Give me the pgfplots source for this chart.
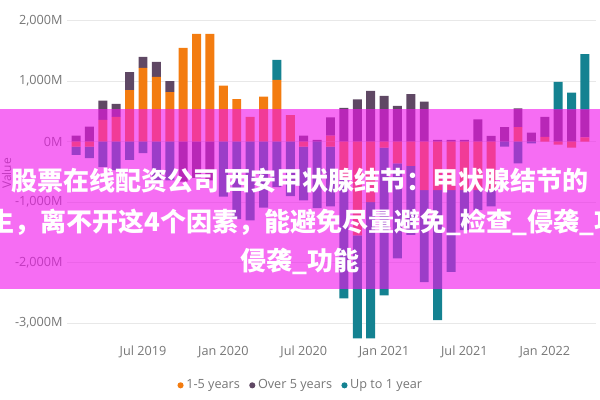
\documentclass[border=0pt]{standalone}
\usepackage{fontspec}
\setmainfont{Open Sans}
\newfontfamily\cjk{Noto Sans CJK SC}
\usepackage{pgfplots}
\usepackage{pgfplotstable}
\pgfplotsset{compat=1.18}

\definecolor{c15}{RGB}{243,124,16}
\definecolor{cover}{RGB}{95,72,100}
\definecolor{cup}{RGB}{20,130,145}
\definecolor{txt}{RGB}{118,118,118}
\definecolor{band}{RGB}{240,20,235}

% monthly flows, Feb 2019 (i=0) .. Apr 2022 (i=38), in M
% po/pd/pt = positive 1-5y / over 5y / up to 1y ; no/nd/nt = negative parts
\pgfplotstableread{
i po pd pt no nd nt
0 0 100 0 -80 0 -140
1 0 250 0 -80 0 -190
2 360 320 0 0 0 -420
3 410 215 0 0 0 -470
4 850 300 0 0 0 -300
5 1220 180 0 0 0 -190
6 1070 250 0 0 0 -640
7 820 180 0 0 0 -640
8 1550 0 0 0 -660 0
9 1780 0 0 0 -600 0
10 1780 0 0 0 -640 0
11 925 0 0 0 0 -910
12 705 0 0 0 0 -1280
13 410 0 0 0 0 -1300
14 745 0 0 0 0 -1090
15 1020 0 330 0 0 -750
16 440 0 0 0 0 -900
17 0 100 0 -80 0 -890
18 0 30 0 0 0 -1100
19 100 300 0 -80 0 -990
20 0 560 0 -600 0 -1990
21 0 700 0 -1550 0 -1700
22 0 840 0 -1000 0 -2250
23 0 755 0 -100 0 -2440
24 0 590 0 -360 0 -1570
25 0 785 0 -400 0 -1140
26 0 660 0 -800 0 -1520
27 0 30 0 -800 0 -2150
28 0 30 0 -800 0 -1350
29 0 30 0 -800 0 -660
30 0 370 0 -800 0 -330
31 0 95 0 -800 0 -270
32 0 240 0 0 0 -80
33 240 310 0 0 0 -360
34 0 150 0 0 0 -30
35 80 330 0 0 0 0
36 0 520 470 -50 0 0
37 0 520 290 -100 0 0
38 70 450 925 0 0 0
}\flows

\pgfplotsset{
  base/.style={
    scale only axis, width=396.75pt, height=251.85pt,
    at={(50.5pt,44pt)}, anchor=south west,
    xmin=-0.65, xmax=38.85, ymin=-3300, ymax=2250,
    ybar stacked, bar width=0.67,
  },
}

\begin{document}
\begin{tikzpicture}
\useasboundingbox (0,0) rectangle (450pt,300pt);

% positive parts + axis furniture
\begin{axis}[base,
  axis line style={draw=none},
  tick style={draw=none},
  ytick={-3000,-2000,-1000,0,1000,2000},
  yticklabels={{-3,000M},{-2,000M},{-1,000M},{0M},{1,000M},{2,000M}},
  xtick={5,11,17,23,29,35},
  xticklabels={Jul 2019,Jan 2020,Jul 2020,Jan 2021,Jul 2021,Jan 2022},
  ymajorgrids, grid style={black!9, line width=0.6pt},
  tick label style={font=\fontsize{9.5}{11}\selectfont, text=txt},
  ylabel={Value}, ylabel shift=-4pt,
  ylabel style={font=\fontsize{9}{11}\selectfont, text=txt},
  legend style={at={(0.442,-0.131)}, anchor=center, draw=none, fill=none,
    legend columns=3, font=\fontsize{9.5}{11}\selectfont, text=txt,
    /tikz/every even column/.append style={column sep=5pt}},
  legend image code/.code={\fill[#1] (0pt,0pt) circle (2.3pt);},
]
\addplot[fill=c15, draw=none] table[x=i, y=po] {\flows};
\addplot[fill=cover, draw=none] table[x=i, y=pd] {\flows};
\addplot[fill=cup, draw=none] table[x=i, y=pt] {\flows};
\legend{1-5 years, Over 5 years, Up to 1 year}
\end{axis}

% negative parts, stacked downward from zero
\begin{axis}[base, hide axis]
\addplot[fill=c15, draw=none] table[x=i, y=no] {\flows};
\addplot[fill=cover, draw=none] table[x=i, y=nd] {\flows};
\addplot[fill=cup, draw=none] table[x=i, y=nt] {\flows};
\end{axis}

% banner laid over the chart
\begin{scope}
\clip (0,0) rectangle (450pt,300pt);
\fill[band, opacity=0.62] (0pt,82.9pt) rectangle (450pt,218.6pt);
\begin{scope}[every node/.style={text=white, inner sep=0pt,
    font=\cjk\bfseries\fontsize{19.5}{20}\selectfont}]
\node[anchor=center] at (225pt,164.25pt) {股票在线配资公司 西安甲状腺结节：甲状腺结节的};
\node[anchor=west] at (-9pt,133.5pt) {生，离不开这4个因素，能避免尽量避免\_检查\_侵袭\_功能};
\node[anchor=center] at (225pt,104.25pt) {侵袭\_功能};
\end{scope}
\end{scope}
\end{tikzpicture}
\end{document}
